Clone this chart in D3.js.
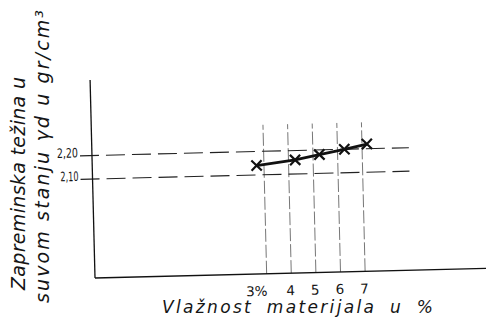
<!DOCTYPE html>
<html>
<head>
<meta charset="utf-8">
<script src="https://cdn.jsdelivr.net/npm/d3@7"></script>
<style>
  html, body { margin: 0; padding: 0; background: #fff; }
  svg { display: block; }
  text { fill: #151515; }
</style>
</head>
<body>
<div id="chart"></div>
<script>
// values
const moisture = [2.7, 4.27, 5.26, 6.28, 7.2];
const density = [2.14, 2.16, 2.18, 2.20, 2.22];
const xTicks = [3, 4, 5, 6, 7];
const xTickLabels = ['3%', '4', '5', '6', '7'];
const yTicks = [2.10, 2.20];
const yTickLabels = ['2,10', '2,20'];

const width = 486, height = 324;
const origin = { x: 95, y: 278 };
const tilt = -1.42; // the scan is slightly rotated

const svg = d3.select('#chart')
  .append('svg')
  .attr('width', width)
  .attr('height', height);

const g = svg.append('g')
  .attr('transform', `translate(${origin.x},${origin.y}) rotate(${tilt})`);

// Create scales
const x = d3.scaleLinear().domain([3, 7]).range([171.7, 270.2]);
const y = d3.scaleLinear().domain([2.10, 2.20]).range([-99, -122.5]);

const ink = '#111';
const handFont = '"DejaVu Sans", sans-serif';

// vertical guide lines
g.selectAll('.vgrid')
  .data(xTicks)
  .enter()
  .append('line')
  .attr('x1', d => x(d)).attr('x2', d => x(d))
  .attr('y1', 0).attr('y2', -149)
  .attr('stroke', '#555')
  .attr('stroke-width', 0.8)
  .attr('stroke-dasharray', '13,3');

// horizontal guide lines
g.selectAll('.hgrid')
  .data(yTicks)
  .enter()
  .append('line')
  .attr('x1', -12).attr('x2', 317)
  .attr('y1', d => y(d)).attr('y2', d => y(d))
  .attr('stroke', '#222')
  .attr('stroke-width', 1.1)
  .attr('stroke-dasharray', '19,7');

// axes
g.append('line')
  .attr('x1', 0).attr('x2', 0).attr('y1', 0).attr('y2', -198)
  .attr('stroke', ink).attr('stroke-width', 1.3);
g.append('line')
  .attr('x1', 0).attr('x2', 420).attr('y1', 0).attr('y2', 0)
  .attr('stroke', ink).attr('stroke-width', 1.3);

// tick labels
g.selectAll('.xlab')
  .data(xTicks)
  .enter()
  .append('text')
  .attr('x', (d, i) => i === 0 ? x(d) + 0.5 : x(d) - 1)
  .attr('y', 22)
  .attr('text-anchor', (d, i) => i === 0 ? 'end' : 'middle')
  .style('font-family', handFont)
  .style('font-size', '13.5px')
  .text((d, i) => xTickLabels[i]);

g.selectAll('.ylab')
  .data(yTicks)
  .enter()
  .append('text')
  .attr('x', -14)
  .attr('y', d => y(d) + 1.5)
  .attr('text-anchor', 'end')
  .attr('textLength', (d, i) => i === 0 ? 18 : 21)
  .attr('lengthAdjust', 'spacingAndGlyphs')
  .style('font-family', handFont)
  .style('font-size', '13px')
  .text((d, i) => yTickLabels[i]);

// data line
const pts = moisture.map((m, i) => [m, density[i]]);
const line = d3.line()
  .x(d => x(d[0]))
  .y(d => y(d[1]));

g.append('path')
  .datum(pts)
  .attr('fill', 'none')
  .attr('stroke', ink)
  .attr('stroke-width', 2.8)
  .attr('d', line);

g.selectAll('.mark')
  .data(pts)
  .enter()
  .append('path')
  .attr('transform', d => `translate(${x(d[0])},${y(d[1])})`)
  .attr('d', d3.symbol(d3.symbolX, 70))
  .attr('fill', 'none')
  .attr('stroke', ink)
  .attr('stroke-width', 2.2);

// axis titles (not tilted in the scan)
svg.append('text')
  .attr('x', 162)
  .attr('y', 313)
  .attr('textLength', 271)
  .attr('lengthAdjust', 'spacing')
  .style('font-family', handFont)
  .style('font-style', 'italic')
  .style('font-size', '17px')
  .style('word-spacing', '6px')
  .text('Vlažnost materijala u %');

svg.append('text')
  .attr('transform', 'translate(25,290) rotate(-90)')
  .attr('textLength', 213)
  .attr('lengthAdjust', 'spacing')
  .style('font-family', handFont)
  .style('font-style', 'italic')
  .style('font-size', '19px')
  .text('Zapreminska težina u');

svg.append('text')
  .attr('transform', 'translate(49,303) rotate(-90)')
  .attr('textLength', 293)
  .attr('lengthAdjust', 'spacing')
  .style('font-family', handFont)
  .style('font-style', 'italic')
  .style('font-size', '19px')
  .text('suvom stanju γd u gr/cm³');
</script>
</body>
</html>
